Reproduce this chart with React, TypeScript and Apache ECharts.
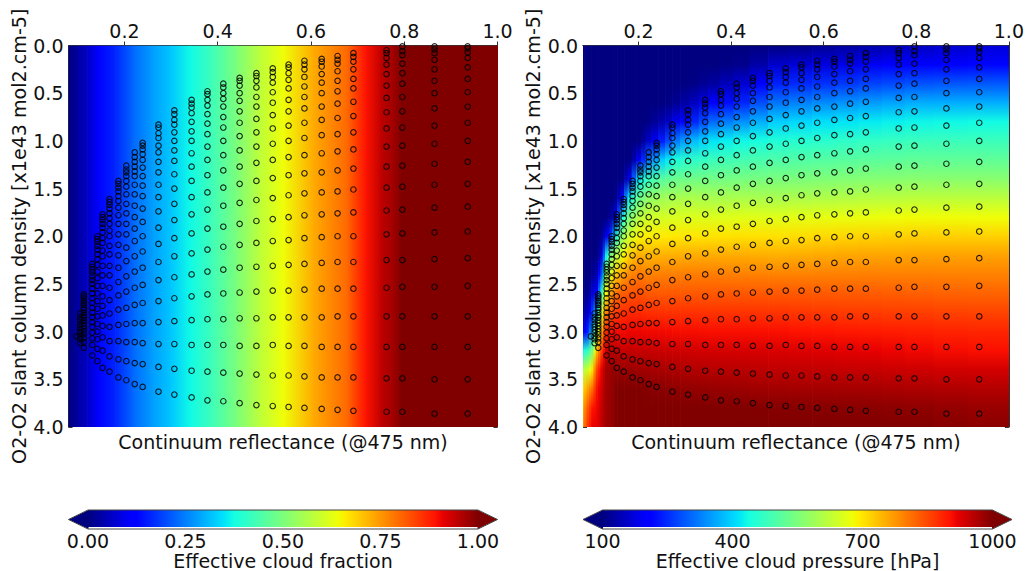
import React, { useEffect, useRef } from "react";
import * as echarts from "echarts";

const FONT = "DejaVu Sans";
const xTicks = [0.2, 0.4, 0.6, 0.8, 1.0];
const cfBarTicks = [0, 0.25, 0.5, 0.75, 1];
const pBarTicks = [100, 400, 700, 1000];

// left panel: cloud fraction read along the reflectance axis
const cfX = [0.08, 0.1, 0.12, 0.143, 0.18, 0.22, 0.26, 0.3, 0.34, 0.39, 0.44, 0.49, 0.54, 0.605, 0.677, 0.716, 0.75, 0.775, 0.793, 1.0];
const cfV = [0.0, 0.03, 0.06, 0.11, 0.16, 0.23, 0.28, 0.32, 0.37, 0.43, 0.5, 0.58, 0.64, 0.73, 0.8, 0.89, 0.945, 0.97, 1.0, 1.0];

// right panel: cloud pressure read on a grid, one list per reflectance column
const pY = [0, 0.2, 0.4, 0.6, 0.8, 1.0, 1.2, 1.4, 1.6, 1.8, 2.0, 2.2, 2.4, 2.6, 2.8, 3.0, 3.2, 3.4, 3.6, 3.8, 4.0];
const pX = [0.08, 0.085, 0.09, 0.095, 0.1, 0.105, 0.11, 0.115, 0.12, 0.125, 0.13, 0.135, 0.14, 0.145, 0.15, 0.1575, 0.165, 0.1725, 0.18, 0.19, 0.2, 0.21, 0.22, 0.235, 0.25, 0.265, 0.28, 0.3, 0.32, 0.34, 0.36, 0.39, 0.42, 0.46, 0.5, 0.55, 0.6, 0.65, 0.7, 0.75, 0.8, 0.875, 0.95];
const pV = [
  [100,100,100,100,100,100,100,100,100,100,100,100,100,105,130,190,430,615,710,760,790],
  [100,100,100,100,100,100,100,100,100,100,100,100,100,108,140,215,450,625,738,798,830],
  [100,100,100,100,100,100,100,100,100,100,100,100,100,110,150,240,470,635,765,835,870],
  [100,100,100,100,100,100,100,100,100,100,100,100,105,135,205,315,510,670,790,868,895],
  [100,100,100,100,100,100,100,100,100,100,100,100,115,165,265,390,550,705,815,900,920],
  [100,100,100,100,100,100,100,100,100,100,100,102,125,185,335,490,650,785,860,905,920],
  [100,100,100,100,100,100,100,100,100,100,100,105,140,205,405,590,745,855,905,915,920],
  [100,100,100,100,100,100,100,100,100,100,105,130,210,330,520,675,800,890,920,930,935],
  [100,100,100,100,100,100,100,100,100,100,110,160,280,465,635,760,855,920,935,945,950],
  [100,100,100,100,100,100,100,100,100,100,145,290,430,575,715,825,905,950,958,962,965],
  [100,100,100,100,100,100,100,100,100,100,185,424,585,685,795,885,950,975,975,975,975],
  [100,100,100,100,100,100,100,100,100,110,220,485,625,725,818,895,952,975,978,980,980],
  [100,100,100,100,100,100,100,100,100,120,260,550,665,765,840,905,955,980,982,982,982],
  [100,100,100,100,100,100,100,100,102,150,340,580,695,788,853,908,955,985,985,985,985],
  [100,100,100,100,100,100,100,100,110,185,424,610,725,810,865,912,955,985,1000,1000,1000],
  [100,100,100,100,100,100,100,102,150,300,500,645,745,820,870,911,950,982,1000,1000,1000],
  [100,100,100,100,100,100,100,105,215,440,580,676,765,830,875,910,945,980,1000,1000,1000],
  [100,100,100,100,100,100,100,140,330,495,612,698,778,835,878,912,946,980,1000,1000,1000],
  [100,100,100,100,100,100,100,185,424,550,645,720,790,840,880,915,948,980,1000,1000,1000],
  [100,100,100,100,100,100,135,300,475,580,665,738,798,842,881,915,946,978,1000,1000,1000],
  [100,100,100,100,100,100,185,415,525,610,685,755,805,845,882,915,945,975,1000,1000,1000],
  [100,100,100,100,100,120,245,445,548,625,688,751,800,840,878,913,945,973,998,1000,1000],
  [100,100,100,100,105,155,310,470,570,640,692,748,795,835,875,912,945,972,995,1000,1000],
  [100,100,100,100,118,190,350,492,580,642,693,749,796,835,874,911,943,970,993,1000,1000],
  [100,100,100,100,135,235,395,510,590,645,695,750,798,835,873,910,942,968,992,1000,1000],
  [100,100,100,105,155,275,420,520,595,648,696,751,798,835,872,909,941,966,990,1000,1000],
  [100,100,100,115,185,320,445,530,600,652,698,752,798,835,872,908,940,965,988,1000,1000],
  [100,100,102,130,215,350,455,534,601,653,699,753,799,835,872,907,938,962,986,1000,1000],
  [100,100,105,150,245,380,465,538,603,655,700,755,800,835,872,907,937,960,985,1000,1000],
  [100,100,115,175,275,398,472,539,601,655,701,755,800,835,871,906,936,959,983,1000,1000],
  [100,100,125,200,305,415,480,540,600,655,702,755,800,835,870,905,935,958,982,1000,1000],
  [100,104,145,222,322,424,485,542,601,657,703,755,798,835,870,905,934,956,980,999,1000],
  [100,110,165,245,340,432,490,545,602,660,705,755,797,835,870,905,933,955,978,998,1000],
  [100,130,200,280,368,441,495,546,601,660,705,753,796,835,870,905,931,952,975,997,1000],
  [100,160,240,315,395,450,500,548,600,660,705,752,795,835,870,905,930,950,973,995,1000],
  [106,167,248,325,402,455,504,551,604,664,708,755,795,834,868,902,928,949,972,995,1000],
  [115,175,255,335,410,460,508,555,608,668,712,758,796,833,866,900,926,948,972,994,1000],
  [122,182,262,342,415,465,511,557,611,670,715,760,797,832,864,897,923,946,971,993,1000],
  [130,190,270,350,420,470,515,560,615,672,718,762,798,832,863,895,920,945,970,992,1000],
  [140,197,277,357,425,474,517,562,617,675,720,763,797,830,861,892,916,942,967,990,999],
  [150,205,285,365,430,478,520,565,620,678,722,765,797,828,860,890,912,940,965,988,998],
  [160,210,288,365,432,479,520,565,620,677,721,765,796,826,857,887,908,937,962,984,994],
  [170,215,290,365,435,480,520,565,620,676,720,765,795,825,855,885,905,935,960,980,990],
];

// the retrieval grid: each list holds the slant column of one reflectance column
const gridX = [0.097, 0.105, 0.113, 0.131, 0.142, 0.153, 0.168, 0.187, 0.204, 0.222, 0.239, 0.273, 0.307, 0.344, 0.378, 0.412, 0.447, 0.483, 0.518, 0.552, 0.586, 0.623, 0.657, 0.691, 0.762, 0.796, 0.865, 0.936];
const gridY = [
  [3.05],
  [2.81,2.85,2.88,2.92,2.95,2.98,3.01,3.05,3.08,3.12],
  [2.61,2.63,2.65,2.68,2.7,2.72,2.75,2.77,2.8,2.83,2.85,2.88,2.91,2.94,2.97,3.0,3.03,3.07,3.11,3.17],
  [2.29,2.32,2.35,2.38,2.42,2.46,2.5,2.55,2.6,2.65,2.7,2.75,2.8,2.85,2.9,2.95,3.01,3.07,3.14,3.25],
  [2.0,2.03,2.06,2.1,2.14,2.19,2.24,2.3,2.37,2.44,2.52,2.6,2.68,2.76,2.84,2.92,3.0,3.08,3.18,3.31],
  [1.77,1.8,1.83,1.87,1.91,1.96,2.02,2.07,2.15,2.21,2.31,2.41,2.52,2.63,2.73,2.83,2.94,3.06,3.2,3.38],
  [1.61,1.64,1.67,1.71,1.76,1.81,1.87,1.94,2.0,2.1,2.19,2.31,2.41,2.54,2.67,2.81,2.95,3.1,3.26,3.42],
  [1.42,1.45,1.49,1.53,1.58,1.63,1.7,1.78,1.87,1.98,2.09,2.2,2.33,2.48,2.62,2.77,2.93,3.1,3.29,3.48],
  [1.26,1.3,1.33,1.37,1.42,1.48,1.56,1.66,1.76,1.87,1.98,2.12,2.26,2.42,2.58,2.75,2.92,3.11,3.31,3.51],
  [1.12,1.17,1.22,1.27,1.32,1.37,1.46,1.56,1.68,1.8,1.92,2.05,2.21,2.37,2.54,2.72,2.91,3.11,3.33,3.55],
  [1.02,1.05,1.09,1.14,1.2,1.28,1.37,1.47,1.58,1.71,1.85,2.0,2.16,2.33,2.51,2.7,2.91,3.12,3.34,3.58],
  [0.83,0.86,0.92,0.97,1.05,1.12,1.22,1.33,1.46,1.59,1.74,1.91,2.08,2.27,2.46,2.68,2.9,3.13,3.37,3.63],
  [0.68,0.72,0.78,0.83,0.91,1.0,1.1,1.21,1.35,1.5,1.66,1.83,2.02,2.21,2.43,2.65,2.89,3.13,3.39,3.66],
  [0.57,0.61,0.65,0.71,0.8,0.9,1.0,1.13,1.27,1.42,1.59,1.77,1.97,2.18,2.4,2.63,2.88,3.14,3.41,3.69],
  [0.48,0.51,0.57,0.63,0.72,0.82,0.93,1.06,1.2,1.36,1.54,1.72,1.92,2.14,2.37,2.61,2.87,3.14,3.42,3.72],
  [0.4,0.44,0.5,0.56,0.64,0.75,0.86,1.0,1.15,1.31,1.49,1.68,1.9,2.11,2.35,2.6,2.87,3.14,3.43,3.73],
  [0.34,0.37,0.42,0.5,0.58,0.69,0.81,0.95,1.1,1.27,1.45,1.65,1.87,2.09,2.33,2.59,2.86,3.15,3.44,3.75],
  [0.29,0.32,0.37,0.44,0.54,0.64,0.77,0.91,1.06,1.23,1.42,1.62,1.84,2.07,2.32,2.58,2.86,3.15,3.45,3.77],
  [0.24,0.28,0.33,0.39,0.49,0.6,0.73,0.87,1.03,1.2,1.39,1.6,1.82,2.05,2.31,2.57,2.85,3.14,3.46,3.78],
  [0.2,0.23,0.29,0.36,0.45,0.57,0.69,0.84,1.0,1.17,1.36,1.57,1.8,2.04,2.3,2.57,2.85,3.15,3.46,3.79],
  [0.16,0.2,0.25,0.33,0.43,0.54,0.66,0.81,0.97,1.15,1.34,1.55,1.78,2.02,2.29,2.56,2.85,3.15,3.47,3.8],
  [0.14,0.17,0.22,0.3,0.39,0.5,0.64,0.78,0.94,1.13,1.33,1.54,1.77,2.01,2.28,2.55,2.85,3.16,3.48,3.81],
  [0.11,0.15,0.19,0.27,0.37,0.48,0.61,0.76,0.93,1.11,1.31,1.53,1.76,2.0,2.27,2.55,2.84,3.16,3.48,3.82],
  [0.08,0.12,0.17,0.25,0.35,0.45,0.59,0.74,0.91,1.09,1.29,1.51,1.75,2.0,2.27,2.55,2.84,3.16,3.48,3.83],
  [0.05,0.08,0.13,0.2,0.3,0.42,0.55,0.7,0.87,1.06,1.27,1.49,1.73,1.98,2.25,2.54,2.84,3.16,3.49,3.84],
  [0.01,0.06,0.1,0.19,0.29,0.4,0.54,0.69,0.86,1.05,1.26,1.48,1.72,1.97,2.25,2.53,2.84,3.16,3.49,3.84],
  [0.01,0.04,0.08,0.15,0.25,0.37,0.5,0.66,0.84,1.03,1.24,1.46,1.7,1.96,2.24,2.53,2.84,3.16,3.5,3.86],
  [0.01,0.03,0.07,0.13,0.23,0.35,0.49,0.64,0.81,1.0,1.22,1.45,1.69,1.95,2.23,2.52,2.84,3.16,3.5,3.86],
];

const lerp = (v: number, pts: number[][]) => {
  for (let i = 1; i < pts.length; i++) {
    if (v <= pts[i][0]) {
      const [a, b] = [pts[i - 1], pts[i]];
      return a[1] + ((b[1] - a[1]) * (v - a[0])) / (b[0] - a[0]);
    }
  }
  return pts[pts.length - 1][1];
};
const jet = (v: number) => {
  const r = lerp(v, [[0, 0], [0.35, 0], [0.66, 1], [0.89, 1], [1, 0.5]]);
  const g = lerp(v, [[0, 0], [0.125, 0], [0.375, 1], [0.64, 1], [0.91, 0], [1, 0]]);
  const b = lerp(v, [[0, 0.5], [0.11, 1], [0.34, 1], [0.65, 0], [1, 0]]);
  return `rgb(${Math.round(r * 255)},${Math.round(g * 255)},${Math.round(b * 255)})`;
};
const pToV = (p: number) => (p - 100) / 900;
const jetKnots = [0, 0.11, 0.125, 0.34, 0.35, 0.375, 0.64, 0.65, 0.66, 0.89, 0.91, 1];

const textStyle = { fontFamily: FONT, fontSize: 19, color: "#111" };
const frame = { show: true, lineStyle: { color: "#333", width: 1 } };
const GRID_W = 429;
const panels = [68.5, 583];

const makeOption = () => {
  const grid: any[] = [];
  const xAxis: any[] = [];
  const yAxis: any[] = [];
  const series: any[] = [];
  const graphic: any[] = [];

  const points = gridX.flatMap((x, i) => gridY[i].map((y) => [x, y]));

  panels.forEach((left, k) => {
    const panelIdx = grid.length;
    grid.push({ left, top: 45.5, width: GRID_W, height: 381.5 });
    const xBase = { type: "value", min: 0.08, max: 1, gridIndex: panelIdx, axisLine: frame, splitLine: { show: false } };
    const tickOnly = { inside: true, length: 4, customValues: xTicks, lineStyle: { color: "#333" } };
    const xi = xAxis.length;
    const yi = yAxis.length;
    xAxis.push({
      ...xBase,
      position: "top",
      axisTick: tickOnly,
      axisLabel: { ...textStyle, margin: 5, customValues: xTicks, formatter: (v: number) => v.toFixed(1) },
    });
    xAxis.push({
      ...xBase,
      position: "bottom",
      name: "Continuum reflectance (@475 nm)",
      nameLocation: "middle",
      nameGap: 5,
      nameTextStyle: textStyle,
      axisTick: tickOnly,
      axisLabel: { show: false },
    });
    const yBase = { type: "value", min: 0, max: 4, interval: 0.5, inverse: true, gridIndex: panelIdx, axisLine: frame, splitLine: { show: false } };
    const yTick = { inside: true, length: 4, lineStyle: { color: "#333" } };
    yAxis.push({
      ...yBase,
      position: "left",
      name: "O2-O2 slant column density [x1e43 mol2.cm-5]",
      nameLocation: "middle",
      nameGap: 40,
      nameTextStyle: { ...textStyle, fontSize: 19.1 },
      axisTick: yTick,
      axisLabel: { ...textStyle, margin: 5, formatter: (v: number) => v.toFixed(1) },
    });
    yAxis.push({ ...yBase, position: "right", axisTick: yTick, axisLabel: { show: false } });

    if (k === 0) {
      series.push({
        type: "custom",
        coordinateSystem: "cartesian2d",
        xAxisIndex: xi,
        yAxisIndex: yi,
        z: 1,
        clip: true,
        silent: true,
        data: cfX.slice(0, -1).map((x, i) => [x, 0, cfX[i + 1], 4, cfV[i], cfV[i + 1]]),
        encode: { x: [0, 2], y: [1, 3] },
        renderItem: (_: any, api: any) => {
          const a = api.coord([api.value(0), 0]);
          const b = api.coord([api.value(2), 4]);
          return {
            type: "rect",
            shape: { x: a[0], y: a[1], width: b[0] - a[0] + 0.7, height: b[1] - a[1] },
            style: {
              fill: new echarts.graphic.LinearGradient(0, 0, 1, 0, [
                { offset: 0, color: jet(api.value(4)) },
                { offset: 1, color: jet(api.value(5)) },
              ]),
            },
          };
        },
      });
    } else {
      const edges = pX.map((x, i) => (i === 0 ? 0.08 : (pX[i - 1] + x) / 2));
      edges.push(1);
      series.push({
        type: "custom",
        coordinateSystem: "cartesian2d",
        xAxisIndex: xi,
        yAxisIndex: yi,
        z: 1,
        clip: true,
        silent: true,
        data: pX.map((_, i) => [edges[i], 0, edges[i + 1], 4, i]),
        encode: { x: [0, 2], y: [1, 3] },
        renderItem: (_: any, api: any) => {
          const a = api.coord([api.value(0), 0]);
          const b = api.coord([api.value(2), 4]);
          const col = pV[api.value(4)];
          return {
            type: "rect",
            shape: { x: a[0], y: a[1], width: b[0] - a[0] + 0.7, height: b[1] - a[1] },
            style: {
              fill: new echarts.graphic.LinearGradient(
                0, 0, 0, 1,
                pY.map((y, j) => ({ offset: y / 4, color: jet(pToV(col[j])) })),
              ),
            },
          };
        },
      });
    }
    series.push({
      type: "scatter",
      xAxisIndex: xi,
      yAxisIndex: yi,
      z: 3,
      symbol: "circle",
      symbolSize: 5.5,
      silent: true,
      clip: false,
      itemStyle: { color: "rgba(0,0,0,0)", borderColor: "#000", borderWidth: 1.1, opacity: 0.85 },
      data: points,
    });

    // colour bar
    const barIdx = grid.length;
    grid.push({ left: left + 19.5, top: 510, width: 390, height: 19 });
    const isCf = k === 0;
    const vals = isCf ? cfBarTicks : pBarTicks;
    const [lo, hi] = [vals[0], vals[vals.length - 1]];
    xAxis.push({
      type: "value",
      gridIndex: barIdx,
      min: lo,
      max: hi,
      position: "bottom",
      axisLine: { show: false },
      splitLine: { show: false },
      axisTick: { inside: true, length: 4, customValues: vals, lineStyle: { color: "#333" } },
      axisLabel: {
        ...textStyle,
        margin: 4,
        hideOverlap: false,
        showMinLabel: true,
        showMaxLabel: true,
        customValues: vals,
        formatter: (v: number) => (isCf ? v.toFixed(2) : String(v)),
      },
      name: isCf ? "Effective cloud fraction" : "Effective cloud pressure [hPa]",
      nameLocation: "middle",
      nameGap: 23,
      nameTextStyle: textStyle,
    });
    yAxis.push({ type: "value", gridIndex: barIdx, min: 0, max: 1, show: false });
    series.push({
      type: "custom",
      coordinateSystem: "cartesian2d",
      xAxisIndex: xAxis.length - 1,
      yAxisIndex: yAxis.length - 1,
      z: 1,
      silent: true,
      data: [[lo, 0, hi, 1]],
      encode: { x: [0, 2], y: [1, 3] },
      renderItem: (_: any, api: any) => {
        const a = api.coord([api.value(0), 1]);
        const b = api.coord([api.value(2), 0]);
        return {
          type: "rect",
          shape: { x: a[0], y: a[1], width: b[0] - a[0], height: b[1] - a[1] },
          style: {
            fill: new echarts.graphic.LinearGradient(0, 0, 1, 0, jetKnots.map((v) => ({ offset: v, color: jet(v) }))),
          },
        };
      },
    });
    const [x0, x1, y0, y1] = [left + 19.5, left + 409.5, 510, 529];
    const ym = (y0 + y1) / 2;
    const xEnd = left + GRID_W;
    graphic.push(
      { type: "polygon", z: 4, shape: { points: [[x0 + 0.5, y0], [left, ym], [x0 + 0.5, y1]] }, style: { fill: "#00007f" } },
      { type: "polygon", z: 4, shape: { points: [[x1 - 0.5, y0], [xEnd, ym], [x1 - 0.5, y1]] }, style: { fill: "#7f0000" } },
      {
        type: "polygon",
        z: 5,
        shape: { points: [[x0, y0], [x1, y0], [xEnd, ym], [x1, y1], [x0, y1], [left, ym]] },
        style: { fill: "none", stroke: "#444", lineWidth: 1 },
      },
    );
  });

  return { animation: false, backgroundColor: "#fff", grid, xAxis, yAxis, series, graphic };
};

export default function App() {
  const ref = useRef<HTMLDivElement>(null);
  useEffect(() => {
    if (!ref.current) return;
    const chart = echarts.init(ref.current, undefined, { renderer: "svg" });
    chart.setOption(makeOption() as any);
    return () => chart.dispose();
  }, []);
  return <div ref={ref} style={{ position: "absolute", left: 0, top: 0, width: 1027, height: 571 }} />;
}
